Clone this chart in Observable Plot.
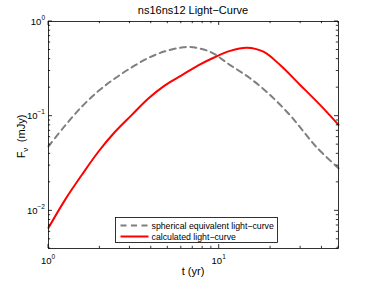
<!DOCTYPE html>
<html><head><meta charset="utf-8">
<script src="https://cdn.jsdelivr.net/npm/d3@7"></script>
<script src="https://cdn.jsdelivr.net/npm/@observablehq/plot@0.6"></script>
<style>body{margin:0;background:#fff}</style>
</head><body><div id="chart"></div>
<script>
const titleText = "ns16ns12 Light\u2212Curve";
const xLabelText = "t (yr)";
const seriesNames = ["spherical equivalent light\u2212curve", "calculated light\u2212curve"];

const tSpherical = [1.0, 1.25, 1.567, 1.959, 2.455, 3.069, 3.846, 4.808, 6.026, 6.761, 8.851, 11.59, 15.17, 19.86, 26.0, 31.12, 37.24, 50];
const fSpherical = [0.0479, 0.0794, 0.1259, 0.1841, 0.2512, 0.3273, 0.412, 0.4842, 0.5309, 0.5395, 0.4786, 0.3467, 0.2512, 0.1675, 0.1023, 0.0692, 0.0468, 0.0282];

const tCalc = [1.0, 1.25, 1.567, 1.959, 2.455, 3.069, 3.846, 4.808, 6.026, 7.534, 9.333, 11.59, 14.52, 18.16, 22.75, 29.79, 38.99, 50];
const fCalc = [0.00661, 0.01306, 0.02393, 0.04207, 0.06839, 0.1026, 0.1535, 0.2118, 0.2704, 0.3443, 0.4169, 0.4898, 0.5284, 0.4797, 0.3467, 0.2138, 0.1315, 0.0809];

const xMajor = [1, 10];
const xMajorExp = ["0", "1"];
const xMinor = [2, 3, 4, 5, 6, 7, 8, 9, 20, 30, 40, 50];
const yMajor = [0.01, 0.1, 1];
const yMajorExp = ["\u22122", "\u22121", "0"];
const yMinor = [0.004, 0.005, 0.006, 0.007, 0.008, 0.009, 0.02, 0.03, 0.04, 0.05, 0.06, 0.07, 0.08, 0.09, 0.2, 0.3, 0.4, 0.5, 0.6, 0.7, 0.8, 0.9];

const spherical = tSpherical.map((t, i) => ({t, f: fSpherical[i]}));
const calc = tCalc.map((t, i) => ({t, f: fCalc[i]}));

const FONT = "'Liberation Sans', Arial, Helvetica, sans-serif";
const GRAY = "#7f7f7f", RED = "#ff0000", DASH = "6,4.5";

function ticksMark(index, scales, values, dims) {
  const {x, y} = scales;
  const top = dims.marginTop, bottom = dims.height - dims.marginBottom;
  const left = dims.marginLeft, right = dims.width - dims.marginRight;
  const g = d3.create("svg:g").attr("stroke", "#000").attr("stroke-width", 0.8).attr("fill", "none");
  const MJ = 4, MN = 2.2;
  const vline = (px, y1, y2) => g.append("line").attr("x1", px).attr("x2", px).attr("y1", y1).attr("y2", y2);
  const hline = (py, x1, x2) => g.append("line").attr("y1", py).attr("y2", py).attr("x1", x1).attr("x2", x2);
  xMajor.forEach(v => { const p = x(v); vline(p, bottom, bottom - MJ); vline(p, top, top + MJ); });
  xMinor.forEach(v => { const p = x(v); vline(p, bottom, bottom - MN); vline(p, top, top + MN); });
  yMajor.forEach(v => { const p = y(v); hline(p, left, left + MJ); hline(p, right, right - MJ); });
  yMinor.forEach(v => { const p = y(v); hline(p, left, left + MN); hline(p, right, right - MN); });
  return g.node();
}

function labelsMark(index, scales, values, dims) {
  const {x, y} = scales;
  const top = dims.marginTop, bottom = dims.height - dims.marginBottom;
  const left = dims.marginLeft, right = dims.width - dims.marginRight;
  const g = d3.create("svg:g").attr("font-family", FONT).attr("fill", "#000");
  xMajor.forEach((v, i) => {
    const t = g.append("text").attr("x", x(v)).attr("y", bottom + 16).attr("text-anchor", "middle").attr("font-size", 9.5);
    t.append("tspan").text("10");
    t.append("tspan").attr("dy", -5).attr("font-size", 6.5).text(xMajorExp[i]);
  });
  yMajor.forEach((v, i) => {
    const t = g.append("text").attr("x", left - 3).attr("y", y(v) + 3.5).attr("text-anchor", "end").attr("font-size", 9.5);
    t.append("tspan").text("10");
    t.append("tspan").attr("dy", -5).attr("font-size", 6.5).text(yMajorExp[i]);
  });
  g.append("text").attr("x", (left + right) / 2).attr("y", dims.height - 6).attr("text-anchor", "middle")
    .attr("font-size", 11).text(xLabelText);
  const yl = g.append("text").attr("transform", `translate(${25},${(top + bottom) / 2 + 2}) rotate(-90)`)
    .attr("text-anchor", "middle").attr("font-size", 11);
  yl.append("tspan").text("F");
  yl.append("tspan").attr("dy", 3).attr("font-size", 8).text("\u03bd");
  yl.append("tspan").attr("dy", -3).text("\u2002(mJy)");
  g.append("text").attr("x", (left + right) / 2).attr("y", top - 7).attr("text-anchor", "middle")
    .attr("font-size", 11).text(titleText);
  return g.node();
}

function legendMark(index, scales, values, dims) {
  const bottom = dims.height - dims.marginBottom;
  const left = dims.marginLeft;
  const g = d3.create("svg:g").attr("font-family", FONT);
  const bx = left + 67.5, bw = 162, bh = 25, by = bottom - 5.5 - bh;
  g.append("rect").attr("x", bx).attr("y", by).attr("width", bw).attr("height", bh)
    .attr("fill", "#fff").attr("stroke", "#000").attr("stroke-width", 0.8);
  const styles = [{stroke: GRAY, dash: DASH}, {stroke: RED, dash: null}];
  seriesNames.forEach((name, i) => {
    const cy = by + 8 + i * 11;
    const l = g.append("line").attr("x1", bx + 5).attr("x2", bx + 33).attr("y1", cy).attr("y2", cy)
      .attr("stroke", styles[i].stroke).attr("stroke-width", 2).attr("fill", "none");
    if (styles[i].dash) l.attr("stroke-dasharray", styles[i].dash);
    g.append("text").attr("x", bx + 36).attr("y", cy + 3.2).attr("text-anchor", "start")
      .attr("font-size", 8.75).attr("fill", "#000").text(name);
  });
  return g.node();
}

const chart = Plot.plot({
  width: 374, height: 281,
  marginLeft: 48, marginRight: 36, marginTop: 21, marginBottom: 33,
  style: {background: "#fff", fontFamily: FONT},
  x: {type: "log", domain: [1, 50], axis: null},
  y: {type: "log", domain: [0.004, 1], axis: null},
  marks: [
    Plot.line(spherical, {x: "t", y: "f", stroke: GRAY, strokeWidth: 2, strokeDasharray: DASH, curve: "catmull-rom"}),
    Plot.line(calc, {x: "t", y: "f", stroke: RED, strokeWidth: 2, curve: "catmull-rom"}),
    Plot.frame({stroke: "#000", strokeWidth: 0.8}),
    ticksMark,
    legendMark,
    labelsMark
  ]
});
document.getElementById("chart").appendChild(chart);
</script>
</body></html>
